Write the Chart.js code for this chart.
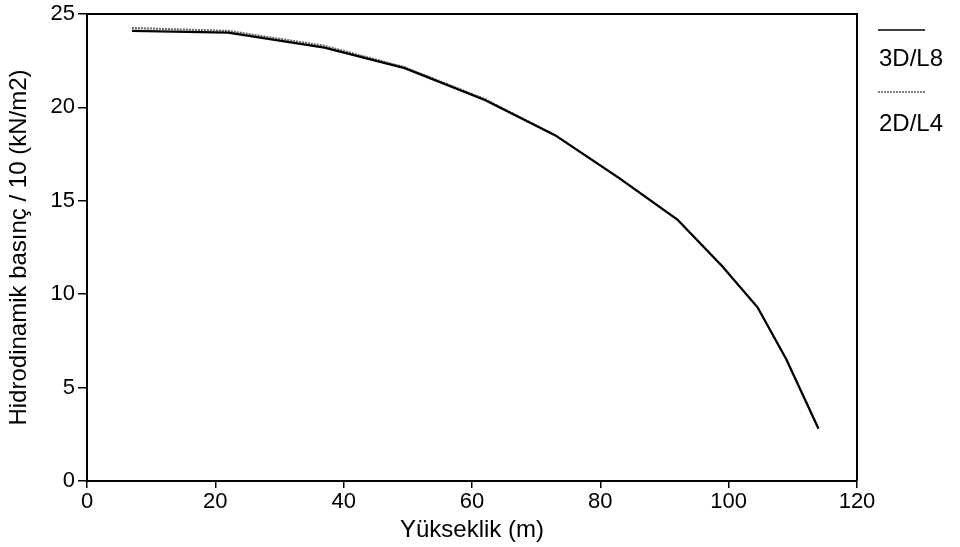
<!DOCTYPE html>
<html>
<head>
<meta charset="utf-8">
<script src="https://cdn.jsdelivr.net/npm/chart.js@4.4.0/dist/chart.umd.min.js"></script>
<style>
  html, body { margin: 0; padding: 0; background: #fff; }
  #wrap { width: 960px; height: 547px; position: relative; }
</style>
</head>
<body>
<div id="wrap"><canvas id="c"></canvas></div>
<script>
var heights = [7, 22, 37, 49.5, 62, 73, 83, 92, 99, 104.5, 109, 114];
var basinc3D = [24.1, 24.0, 23.2, 22.1, 20.4, 18.5, 16.2, 14.0, 11.5, 9.3, 6.5, 2.8];
var basinc2D = [24.25, 24.1, 23.3, 22.15, 20.45, 18.5, 16.2, 14.0, 11.5, 9.3, 6.5, 2.8];
var seriesNames = ["3D/L8", "2D/L4"];
var xTicks = [0, 20, 40, 60, 80, 100, 120];
var yTicks = [0, 5, 10, 15, 20, 25];

var FONT = "'Liberation Sans', Arial, Helvetica, sans-serif";

function toPoints(xs, ys) {
  return xs.map(function (x, i) { return { x: x, y: ys[i] }; });
}

// frame + legend drawn on the canvas
var framePlugin = {
  id: 'frame',
  afterDraw: function (chart) {
    var ctx = chart.ctx, a = chart.chartArea;
    ctx.save();
    ctx.strokeStyle = '#000';
    ctx.lineWidth = 2;
    ctx.beginPath();
    ctx.moveTo(a.left, a.top);
    ctx.lineTo(a.right, a.top);
    ctx.lineTo(a.right, a.bottom);
    ctx.stroke();

    // legend
    var lx = a.right + 21;
    ctx.font = '24px ' + FONT;
    ctx.fillStyle = '#000';
    ctx.textBaseline = 'middle';
    ctx.lineWidth = 1.5;
    ctx.strokeStyle = '#000';
    ctx.beginPath();
    ctx.moveTo(lx, 30); ctx.lineTo(lx + 47, 30);
    ctx.stroke();
    ctx.fillText(seriesNames[0], lx + 1, 59);

    ctx.strokeStyle = '#555';
    ctx.setLineDash([2, 1]);
    ctx.beginPath();
    ctx.moveTo(lx, 92); ctx.lineTo(lx + 47, 92);
    ctx.stroke();
    ctx.setLineDash([]);
    ctx.fillText(seriesNames[1], lx + 1, 124);
    ctx.restore();
  }
};

new Chart(document.getElementById('c'), {
  type: 'line',
  data: {
    datasets: [{
      label: seriesNames[0],
      data: toPoints(heights, basinc3D),
      borderColor: '#000',
      borderWidth: 2.2,
      pointRadius: 0,
      tension: 0,
      order: 1
    }, {
      label: seriesNames[1],
      data: toPoints(heights, basinc2D),
      borderColor: '#666',
      borderWidth: 2,
      borderDash: [2, 1],
      pointRadius: 0,
      tension: 0,
      order: 2
    }]
  },
  options: {
    responsive: true,
    maintainAspectRatio: false,
    animation: false,
    layout: { padding: { left: 0, top: 1, right: 103, bottom: 0 } },
    plugins: { legend: { display: false }, tooltip: { enabled: false } },
    scales: {
      x: {
        type: 'linear',
        min: 0, max: 120,
        afterBuildTicks: function (s) { s.ticks = xTicks.map(function (v) { return { value: v }; }); },
        afterFit: function (s) { s.height = 66; },
        grid: { drawOnChartArea: false, drawTicks: true, tickLength: 7, color: '#000', lineWidth: 1.5 },
        border: { color: '#000', width: 2 },
        ticks: { color: '#000', font: { family: FONT, size: 22 }, padding: 1, maxRotation: 0 },
        title: { display: true, text: 'Yükseklik (m)', color: '#000', font: { family: FONT, size: 24 }, padding: { top: 0, bottom: 2 } }
      },
      y: {
        min: 0, max: 25,
        afterBuildTicks: function (s) { s.ticks = yTicks.map(function (v) { return { value: v }; }); },
        afterFit: function (s) { s.width = 87; },
        grid: { drawOnChartArea: false, drawTicks: true, tickLength: 9, color: '#000', lineWidth: 1.5 },
        border: { color: '#000', width: 2 },
        ticks: { color: '#000', font: { family: FONT, size: 22, lineHeight: 1.0 }, padding: 3 },
        title: { display: true, text: 'Hidrodinamik basınç / 10 (kN/m2)', color: '#000', font: { family: FONT, size: 24 }, padding: { top: 5, bottom: 5 } }
      }
    }
  },
  plugins: [framePlugin]
});
</script>
</body>
</html>
